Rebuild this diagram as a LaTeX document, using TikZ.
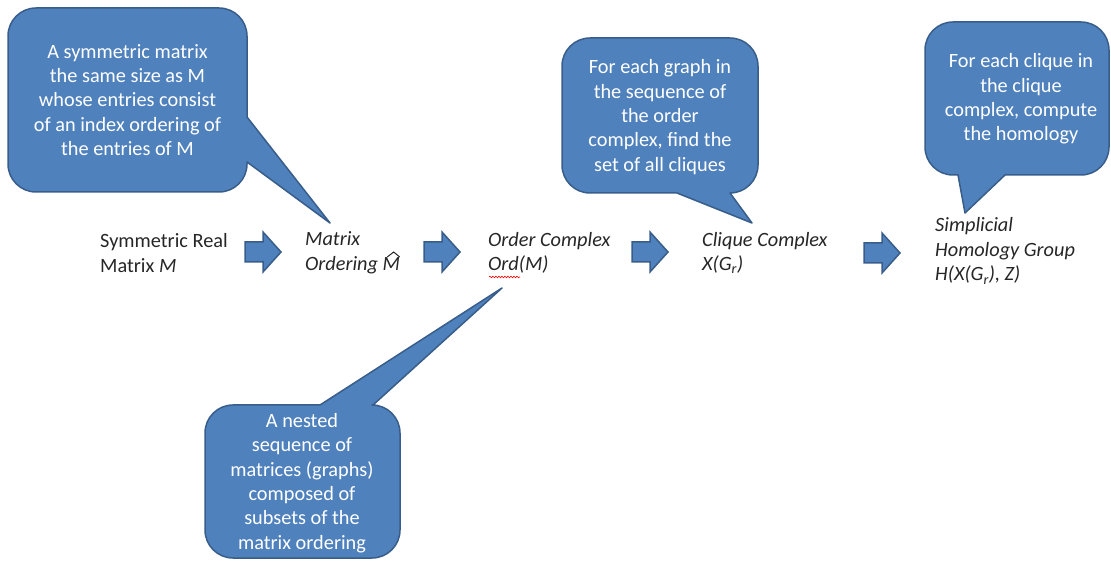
\documentclass[tikz,border=0pt]{standalone}
\usepackage{fontspec}
\setmainfont{Carlito}
\usetikzlibrary{decorations.pathmorphing}
\definecolor{cfill}{HTML}{4F81BD}
\definecolor{cdraw}{HTML}{385D8A}
\tikzset{
  callout/.style={fill=cfill, draw=cdraw, line width=1.5pt, line join=round},
  ctext/.style={text=white, align=center, inner sep=0pt, font=\fontsize{20.3}{24.3}\selectfont},
  label/.style={text=black!85, align=left, inner sep=0pt, anchor=west, font=\fontsize{20.3}{24.5}\selectfont\itshape},
  blockarrow/.pic={\draw[fill=cfill, draw=cdraw, line width=1.5pt, line join=miter] (0,-10) -- (18,-10) -- (18,-20) -- (36,0) -- (18,20) -- (18,10) -- (0,10) -- cycle;}
}
\begin{document}
\begin{tikzpicture}[x=1pt,y=1pt]
\useasboundingbox (0,0) rectangle (1111,560);
% callout 1
\draw[callout] (36,552) -- (219,552) arc[start angle=90,end angle=0,radius=28] -- (247,443) -- (330,337) -- (247,398) -- (247,396) arc[start angle=0,end angle=-90,radius=28] -- (36,368) arc[start angle=270,end angle=180,radius=28] -- (8,524) arc[start angle=180,end angle=90,radius=28] -- cycle;
\node[ctext] (c1) at (127.5,460) {A symmetric matrix\\the same size as M\\whose entries consist\\of an index ordering of\\the entries of M};
% callout 2
\draw[callout] (590,522) -- (730,522) arc[start angle=90,end angle=0,radius=28] -- (758,395) arc[start angle=0,end angle=-90,radius=28] -- (752,337) -- (677,367) -- (590,367) arc[start angle=270,end angle=180,radius=28] -- (562,494) arc[start angle=180,end angle=90,radius=28] -- cycle;
\node[ctext] (c2) at (660,443) {For each graph in\\the sequence of\\the order\\complex, find the\\set of all cliques};
% callout 3
\draw[callout] (953,538) -- (1081,538) arc[start angle=90,end angle=0,radius=28] -- (1109,413) arc[start angle=0,end angle=-90,radius=28] -- (1005,385) -- (965,347) -- (958,385) -- (953,385) arc[start angle=270,end angle=180,radius=28] -- (925,510) arc[start angle=180,end angle=90,radius=28] -- cycle;
\node[ctext] (c3) at (1021,461) {For each clique in\\the clique\\complex, compute\\the homology};
% callout 4
\draw[callout] (233,155) -- (320,155) -- (502,272) -- (373,155) -- (372,155) arc[start angle=90,end angle=0,radius=28] -- (400,30) arc[start angle=0,end angle=-90,radius=28] -- (233,2) arc[start angle=270,end angle=180,radius=28] -- (205,127) arc[start angle=180,end angle=90,radius=28] -- cycle;
\node[ctext] (c4) at (302,77) {A nested\\sequence of\\matrices (graphs)\\composed of\\subsets of the\\matrix ordering};
% labels
\node[label, font=\fontsize{20.3}{24.5}\selectfont] (l1) at (100,307) {Symmetric Real\\Matrix \textit{M}};
\node[label] (l2) at (305,307) {Matrix\\Ordering M};
\draw[black!85, line width=1pt, line join=miter] ([shift={(-13,-4)}]l2.east) -- ([shift={(-6.5,1)}]l2.east) -- ([shift={(-0.5,-4)}]l2.east);
\node[label] (l3) at (488,307) {Order Complex\\Ord(M)};
\node[label] (l4) at (702,307) {Clique Complex\\X(G\textsubscript{r})};
\node[label] (l5) at (935,309) {Simplicial\\Homology Group\\H(X(G\textsubscript{r}), Z)};
\draw[red, line width=0.6pt, decorate, decoration={snake, amplitude=0.8pt, segment length=3pt}] (489,283) -- (520,283);
% block arrows
\pic at (245,308) {blockarrow};
\pic at (424,308) {blockarrow};
\pic at (632,308) {blockarrow};
\pic at (864,307) {blockarrow};
\end{tikzpicture}
\end{document}
